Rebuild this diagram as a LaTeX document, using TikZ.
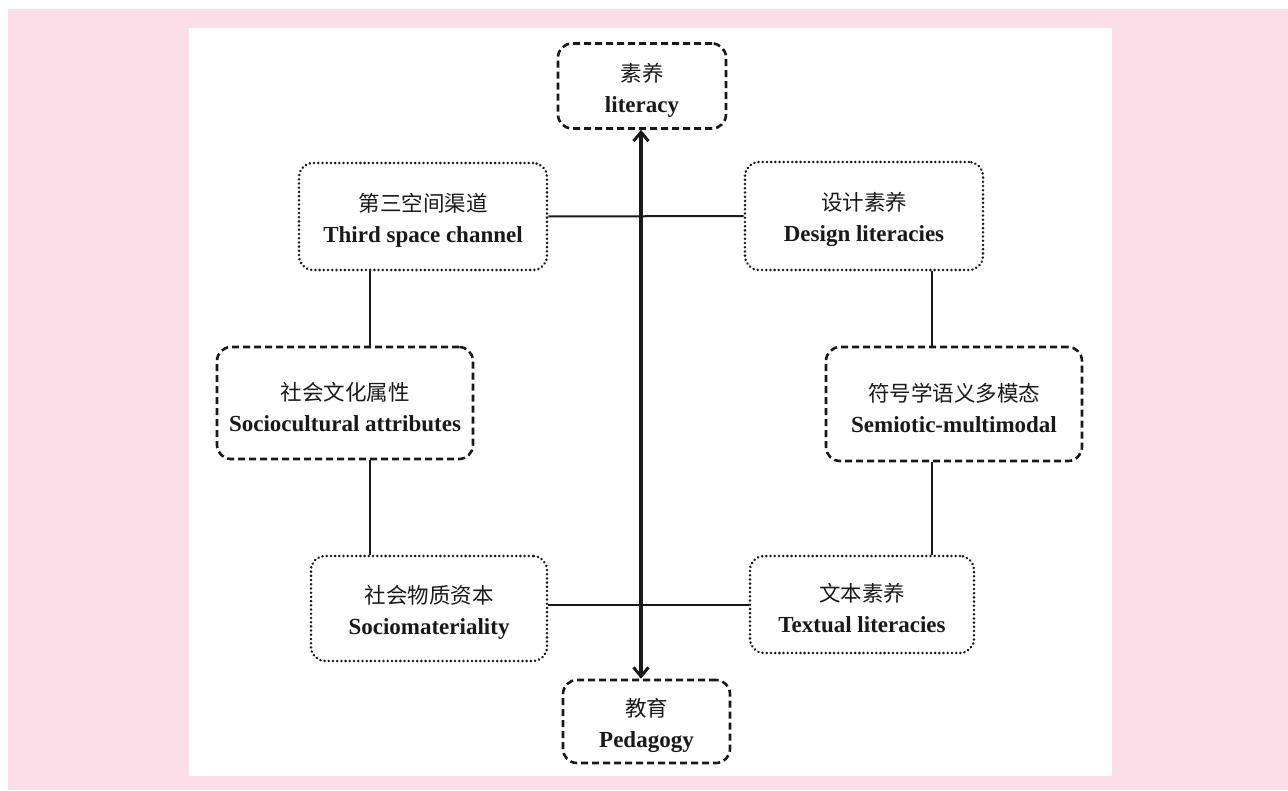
\documentclass[tikz,border=0pt]{standalone}
\usepackage{fontspec}
\setmainfont{Liberation Serif}
\newfontfamily\cjk{Noto Sans CJK SC}
\usetikzlibrary{arrows.meta}
\definecolor{bgpink}{RGB}{251,222,232}
\definecolor{ink}{RGB}{25,25,25}
\tikzset{
  box/.style={draw=ink, rounded corners=14pt, line width=2.6pt, inner sep=0pt,
    align=center, text=ink, font=\fontsize{23}{31}\selectfont\bfseries},
  dashbox/.style={box, dash pattern=on 7pt off 4pt},
  dotbox/.style={box, line cap=round, line width=2.8pt, dash pattern=on 0.01pt off 4.2pt},
  link/.style={draw=ink, line width=2pt},
  bigarrow/.style={draw=ink, line width=3.5pt, {Straight Barb[length=9pt,width=15pt,line width=3pt]}-{Straight Barb[length=9pt,width=15pt,line width=3pt]}}
}
\newcommand{\zh}[1]{{\fontsize{21.5}{31}\selectfont\mdseries\rule{0pt}{26pt}\cjk #1}}
\begin{document}
\begin{tikzpicture}[x=1pt,y=-1pt]
\useasboundingbox (0,0) rectangle (1288,791);
\fill[white] (0,0) rectangle (1288,791);
\fill[bgpink] (8,9) rectangle (1288,790);
\fill[white] (189,28) rectangle (1112,776);

\node[dashbox, minimum width=168pt, minimum height=85pt] (lit) at (642,86) {\zh{素养}\\literacy};
\node[dotbox, minimum width=248pt, minimum height=107pt] (ts) at (423,216.5) {\zh{第三空间渠道}\\Third space channel};
\node[dotbox, minimum width=238pt, minimum height=108pt] (ds) at (864,216) {\zh{设计素养}\\Design literacies};
\node[dashbox, minimum width=256pt, minimum height=112pt] (sc) at (345,403) {\zh{社会文化属性}\\Sociocultural attributes};
\node[dashbox, minimum width=256pt, minimum height=114pt] (sm) at (954,404) {\zh{符号学语义多模态}\\Semiotic-multimodal};
\node[dotbox, minimum width=236pt, minimum height=105pt] (mat) at (429,608.5) {\zh{社会物质资本}\\Sociomateriality};
\node[dotbox, minimum width=224pt, minimum height=97pt] (tl) at (862,604.5) {\zh{文本素养}\\Textual literacies};
\node[dashbox, minimum width=167pt, minimum height=83pt] (ped) at (646.5,721.5) {\zh{教育}\\Pedagogy};

\coordinate (lx) at (370,0);
\coordinate (rx) at (932,0);
\coordinate (ax) at (641,0);
\coordinate (ly) at (0,605);

\draw[link] (ts.east) -- (ds.west);
\draw[link] (ts.south -| lx) -- (sc.north -| lx);
\draw[link] (sc.south -| lx) -- (mat.north -| lx);
\draw[link] (ds.south -| rx) -- (sm.north -| rx);
\draw[link] (sm.south -| rx) -- (tl.north -| rx);
\draw[link] (mat.east |- ly) -- (tl.west |- ly);
\draw[bigarrow] (lit.south -| ax) -- (ped.north -| ax);
\end{tikzpicture}
\end{document}
